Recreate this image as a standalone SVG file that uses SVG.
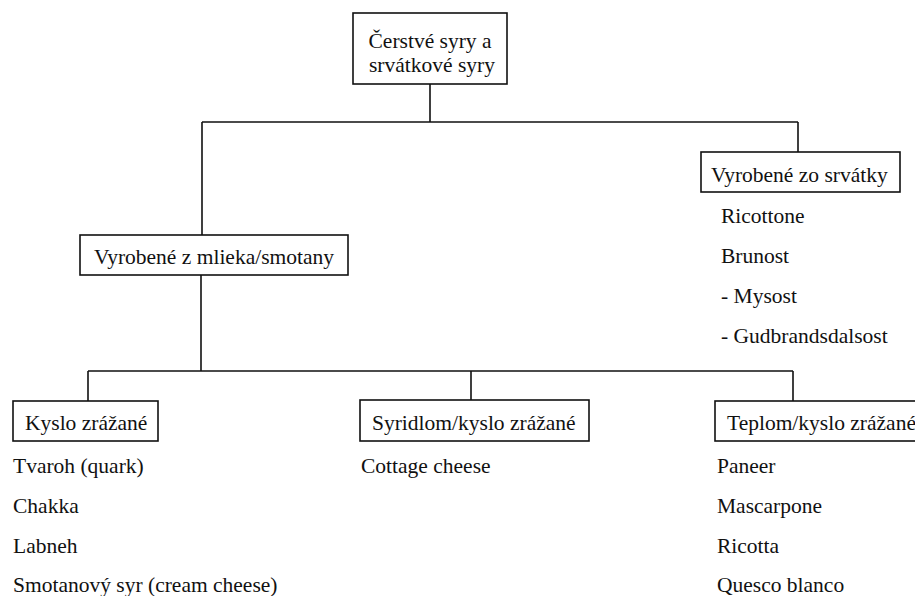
<svg xmlns="http://www.w3.org/2000/svg" width="915" height="596" viewBox="0 0 915 596">
<style>
text{font-family:"Liberation Serif","Times New Roman",serif;font-size:21.5px;fill:#111}
.box{fill:#fff;stroke:#111;stroke-width:1.6}
.ln{fill:none;stroke:#111;stroke-width:1.6}
</style>
<rect width="915" height="596" fill="#fff"/>
<g id="connectors">
<path class="ln" d="M430 84V122M202 122H798M202 122V235M798 122V152"/>
<path class="ln" d="M201 275V371M88 371H793M88 371V401M471 371V400M793 371V401"/>
</g>
<g id="root">
<rect class="box" x="353" y="13" width="154" height="71"/>
<text x="430" y="48" text-anchor="middle">Čerstvé syry a</text>
<text x="432" y="72" text-anchor="middle">srvátkové syry</text>
</g>
<g id="whey">
<rect class="box" x="701" y="152" width="199" height="40"/>
<text x="711" y="182">Vyrobené zo srvátky</text>
<text x="721" y="223">Ricottone</text>
<text x="721" y="263">Brunost</text>
<text x="721" y="303">- Mysost</text>
<text x="721" y="343">- Gudbrandsdalsost</text>
</g>
<g id="milk">
<rect class="box" x="80" y="235" width="268" height="40"/>
<text x="94" y="264">Vyrobené z mlieka/smotany</text>
</g>
<g id="acid">
<rect class="box" x="13" y="401" width="145" height="40"/>
<text x="25" y="430">Kyslo zrážané</text>
<text x="13" y="473">Tvaroh (quark)</text>
<text x="13" y="513">Chakka</text>
<text x="13" y="553">Labneh</text>
<text x="13" y="592">Smotanový syr (cream cheese)</text>
</g>
<g id="rennet">
<rect class="box" x="360" y="400" width="229" height="41"/>
<text x="372" y="430">Syridlom/kyslo zrážané</text>
<text x="361" y="473">Cottage cheese</text>
</g>
<g id="heat">
<rect class="box" x="715" y="401" width="215" height="40"/>
<text x="727" y="430">Teplom/kyslo zrážané</text>
<text x="717" y="473">Paneer</text>
<text x="717" y="513">Mascarpone</text>
<text x="717" y="553">Ricotta</text>
<text x="717" y="592">Quesco blanco</text>
</g>
</svg>
